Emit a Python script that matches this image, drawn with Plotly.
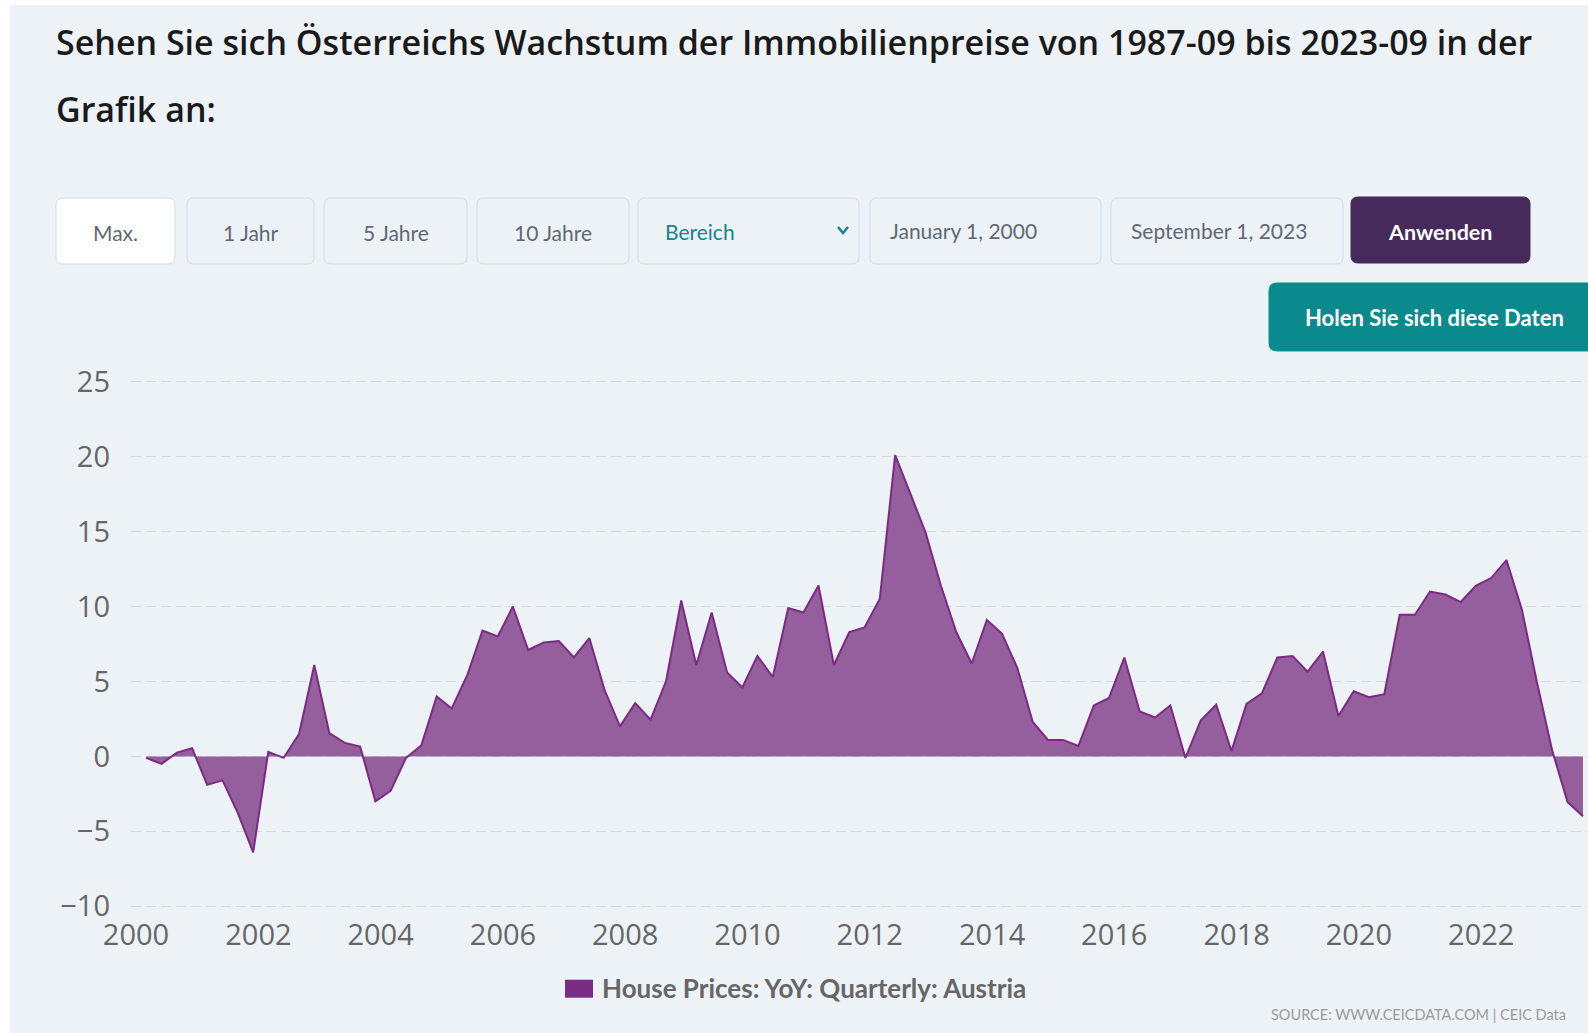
import pandas as pd
import plotly.graph_objects as go

# ---------------- data ----------------
quarter_dates = pd.date_range("2000-03-01", "2023-09-01", freq="3MS").strftime("%Y-%m-%d").tolist()
yoy_values = [
    -0.1, -0.5, 0.25, 0.55,      # 2000
    -1.9, -1.6, -3.8, -6.4,      # 2001
    0.3, -0.1, 1.5, 6.1,         # 2002
    1.55, 0.9, 0.65, -3.0,       # 2003
    -2.3, -0.1, 0.75, 4.0,       # 2004
    3.2, 5.4, 8.4, 8.0,          # 2005
    10.0, 7.1, 7.6, 7.7,         # 2006
    6.6, 7.9, 4.4, 2.0,          # 2007
    3.55, 2.45, 5.0, 10.4,       # 2008
    6.1, 9.6, 5.6, 4.6,          # 2009
    6.7, 5.3, 9.9, 9.6,          # 2010
    11.4, 6.1, 8.3, 8.6,         # 2011
    10.5, 20.1, 17.5, 14.9,      # 2012
    11.4, 8.3, 6.2, 9.1,         # 2013
    8.2, 5.9, 2.3, 1.1,          # 2014
    1.1, 0.7, 3.4, 3.9,          # 2015
    6.6, 3.0, 2.6, 3.4,          # 2016
    -0.1, 2.4, 3.45, 0.35,       # 2017
    3.5, 4.2, 6.6, 6.7,          # 2018
    5.65, 7.0, 2.7, 4.35,        # 2019
    3.95, 4.15, 9.45, 9.45,      # 2020
    11.0, 10.8, 10.3, 11.4,      # 2021
    11.9, 13.1, 9.8, 4.9,        # 2022
    0.4, -3.05, -4.0,            # 2023
]
series_name = "House Prices: YoY: Quarterly: Austria"
y_ticks = [-10, -5, 0, 5, 10, 15, 20, 25]
title_line1 = "Sehen Sie sich Österreichs Wachstum der Immobilienpreise von 1987-09 bis 2023-09 in der"
title_line2 = "Grafik an:"
range_buttons = ["Max.", "1 Jahr", "5 Jahre", "10 Jahre"]
start_label = "January 1, 2000"
end_label = "September 1, 2023"
apply_label = "Anwenden"
data_label = "Holen Sie sich diese Daten"
source_label = "SOURCE: WWW.CEICDATA.COM | CEIC Data"

# ---------------- geometry ----------------
W, H = 1588, 1033
Y_MIN, Y_MAX = -10.25, 25.25          # small padding so edge gridlines are drawn
UNIT_PX = 14.99
L, R = 131, 0
T = 381.8 - 0.25 * UNIT_PX
B = H - (906.5 + 0.25 * UNIT_PX)
PW = W - L - R
PH = H - T - B

def px(x):
    return (x - L) / PW

def py(y):
    return (H - B - y) / PH

def rrect(x0, y0, x1, y1, r):
    def P(x, y):
        return f"{px(x):.5f},{py(y):.5f}"
    return (f"M {P(x0 + r, y0)} L {P(x1 - r, y0)} Q {P(x1, y0)} {P(x1, y0 + r)} "
            f"L {P(x1, y1 - r)} Q {P(x1, y1)} {P(x1 - r, y1)} "
            f"L {P(x0 + r, y1)} Q {P(x0, y1)} {P(x0, y1 - r)} "
            f"L {P(x0, y0 + r)} Q {P(x0, y0)} {P(x0 + r, y0)} Z")

BG = "#edf2f7"
BORDER = "#d3dde6"
UI_FONT = "Lato"
UI_GRAY = "#5f6975"

fig = go.Figure()
fig.add_trace(go.Scatter(
    x=quarter_dates, y=yoy_values, mode="lines", name=series_name,
    fill="tozeroy", fillcolor="#955e9d",
    line=dict(color="#7b2b83", width=2), showlegend=False,
))

shapes = []
annotations = []

# page panel
shapes.append(dict(type="rect", xref="paper", yref="paper", layer="below",
                   x0=px(10), x1=px(W + 5), y0=py(5), y1=py(H + 5),
                   fillcolor=BG, line=dict(width=0)))

# title
title_font = dict(family="Open Sans", size=34, color="#1a1a1a", weight=600)
annotations.append(dict(text=title_line1, x=px(54), y=py(42), xref="paper", yref="paper",
                        xanchor="left", yanchor="middle", showarrow=False, font=title_font))
annotations.append(dict(text=title_line2, x=px(54), y=py(109), xref="paper", yref="paper",
                        xanchor="left", yanchor="middle", showarrow=False, font=title_font))

# range buttons
btn_y0, btn_y1 = 198, 264
btn_cy = 232
btn_boxes = [(56, 175), (187, 314), (324, 467), (477, 629)]
for i, (lab, (bx0, bx1)) in enumerate(zip(range_buttons, btn_boxes)):
    shapes.append(dict(type="path", xref="paper", yref="paper", layer="above",
                       path=rrect(bx0, btn_y0, bx1, btn_y1, 7),
                       fillcolor="#ffffff" if i == 0 else BG,
                       line=dict(color=BORDER, width=1)))
    annotations.append(dict(text=lab, x=px((bx0 + bx1) / 2), y=py(btn_cy),
                            xref="paper", yref="paper", xanchor="center", yanchor="middle",
                            showarrow=False, font=dict(family=UI_FONT, size=21, color=UI_GRAY)))

# Bereich dropdown
shapes.append(dict(type="path", xref="paper", yref="paper", path=rrect(638, btn_y0, 859, btn_y1, 7),
                   fillcolor=BG, line=dict(color=BORDER, width=1)))
annotations.append(dict(text="Bereich", x=px(663), y=py(btn_cy - 1), xref="paper", yref="paper",
                        xanchor="left", yanchor="middle", showarrow=False,
                        font=dict(family=UI_FONT, size=21, color="#17838a")))
shapes.append(dict(type="path", xref="paper", yref="paper",
                   path=f"M {px(838)},{py(227)} L {px(843)},{py(233)} L {px(848)},{py(227)}",
                   line=dict(color="#17838a", width=2.5)))

# date fields
for (bx0, bx1), lab in [((870, 1101), start_label), ((1111, 1343), end_label)]:
    shapes.append(dict(type="path", xref="paper", yref="paper", path=rrect(bx0, btn_y0, bx1, btn_y1, 7),
                       fillcolor=BG, line=dict(color=BORDER, width=1)))
    annotations.append(dict(text=lab, x=px(bx0 + 18), y=py(btn_cy - 2), xref="paper", yref="paper",
                            xanchor="left", yanchor="middle", showarrow=False,
                            font=dict(family=UI_FONT, size=21, color=UI_GRAY)))

# Anwenden
shapes.append(dict(type="path", xref="paper", yref="paper", path=rrect(1351, 197, 1530, 263, 7),
                   fillcolor="#452a5b", line=dict(color="#452a5b", width=1)))
annotations.append(dict(text=apply_label, x=px(1440), y=py(btn_cy), xref="paper", yref="paper",
                        xanchor="center", yanchor="middle", showarrow=False,
                        font=dict(family=UI_FONT, size=21.5, color="#ffffff", weight=700)))

# Holen Sie sich diese Daten
shapes.append(dict(type="path", xref="paper", yref="paper", path=rrect(1269, 283, 1620, 351, 8),
                   fillcolor="#0a8a8c", line=dict(color="#0a8a8c", width=1)))
annotations.append(dict(text=data_label, x=px(1434), y=py(318), xref="paper", yref="paper",
                        xanchor="center", yanchor="middle", showarrow=False,
                        font=dict(family=UI_FONT, size=22, color="#ffffff", weight=700)))

# legend
shapes.append(dict(type="rect", xref="paper", yref="paper", x0=px(565), x1=px(593),
                   y0=py(998), y1=py(980), fillcolor="#7b2b83", line=dict(width=0)))
annotations.append(dict(text=series_name, x=px(600), y=py(988), xref="paper", yref="paper",
                        xanchor="left", yanchor="middle", showarrow=False,
                        font=dict(family=UI_FONT, size=26, color="#666666", weight=700)))

# source
annotations.append(dict(text=source_label, x=px(1269), y=py(1015), xref="paper", yref="paper",
                        xanchor="left", yanchor="middle", showarrow=False,
                        font=dict(family=UI_FONT, size=14.5, color="#9a9a9a")))

tick_font = dict(family="Open Sans", size=29, color="#666666")
fig.update_layout(
    width=W, height=H,
    margin=dict(l=L, r=R, t=T, b=B, pad=0),
    paper_bgcolor="#ffffff", plot_bgcolor="rgba(0,0,0,0)",
    showlegend=False,
    shapes=shapes, annotations=annotations,
    xaxis=dict(type="date", range=["1999-12-02", "2023-10-01"], tick0="2000-01-01", dtick="M24",
               tickformat="%Y", showgrid=False, zeroline=False, showline=False, ticks="",
               ticklabelstandoff=5, tickfont=tick_font),
    yaxis=dict(range=[Y_MIN, Y_MAX], tickvals=y_ticks, showgrid=True, gridcolor="#d6dbe0",
               griddash="10px,5px", gridwidth=1, zeroline=False, showline=False, ticks="",
               ticklabelstandoff=20, tickfont=tick_font),
)

fig.write_html("out.html", config={"displayModeBar": False},
               post_script="document.body.style.margin='0';document.body.style.padding='0';")
